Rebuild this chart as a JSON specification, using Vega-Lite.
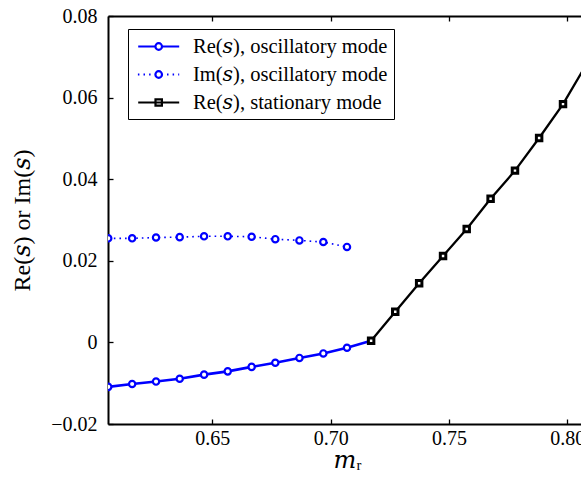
{
  "$schema": "https://vega.github.io/schema/vega-lite/v6.json",
  "width": 473,
  "height": 408,
  "autosize": {"type": "none"},
  "padding": {"left": 108, "top": 16, "right": 0, "bottom": 55},
  "background": "white",
  "config": {
    "font": "Liberation Serif, DejaVu Serif",
    "view": {"stroke": null},
    "axis": {
      "grid": false,
      "domainColor": "black",
      "domainWidth": 2,
      "tickColor": "black",
      "tickWidth": 1.3,
      "tickSize": -5,
      "labelFont": "Liberation Serif, DejaVu Serif",
      "labelFontSize": 20,
      "labelColor": "black",
      "titleFont": "Liberation Serif, DejaVu Serif",
      "titleFontWeight": "normal",
      "titleColor": "black"
    }
  },
  "data": {
    "values": [
      {"series": "Re(𝑠), oscillatory mode", "m": 0.6060, "s": -0.0109},
      {"series": "Re(𝑠), oscillatory mode", "m": 0.6161, "s": -0.0102},
      {"series": "Re(𝑠), oscillatory mode", "m": 0.6262, "s": -0.0096},
      {"series": "Re(𝑠), oscillatory mode", "m": 0.6362, "s": -0.0089},
      {"series": "Re(𝑠), oscillatory mode", "m": 0.6465, "s": -0.0079},
      {"series": "Re(𝑠), oscillatory mode", "m": 0.6565, "s": -0.0071},
      {"series": "Re(𝑠), oscillatory mode", "m": 0.6666, "s": -0.0060},
      {"series": "Re(𝑠), oscillatory mode", "m": 0.6766, "s": -0.0050},
      {"series": "Re(𝑠), oscillatory mode", "m": 0.6868, "s": -0.0038},
      {"series": "Re(𝑠), oscillatory mode", "m": 0.6969, "s": -0.0027},
      {"series": "Re(𝑠), oscillatory mode", "m": 0.7069, "s": -0.0013},
      {"series": "Re(𝑠), oscillatory mode", "m": 0.7171, "s": 0.0004},
      {"series": "Im(𝑠), oscillatory mode", "m": 0.6060, "s": 0.0255},
      {"series": "Im(𝑠), oscillatory mode", "m": 0.6161, "s": 0.0255},
      {"series": "Im(𝑠), oscillatory mode", "m": 0.6262, "s": 0.0257},
      {"series": "Im(𝑠), oscillatory mode", "m": 0.6362, "s": 0.0258},
      {"series": "Im(𝑠), oscillatory mode", "m": 0.6465, "s": 0.0260},
      {"series": "Im(𝑠), oscillatory mode", "m": 0.6565, "s": 0.0260},
      {"series": "Im(𝑠), oscillatory mode", "m": 0.6666, "s": 0.0259},
      {"series": "Im(𝑠), oscillatory mode", "m": 0.6766, "s": 0.0253},
      {"series": "Im(𝑠), oscillatory mode", "m": 0.6868, "s": 0.0250},
      {"series": "Im(𝑠), oscillatory mode", "m": 0.6969, "s": 0.0246},
      {"series": "Im(𝑠), oscillatory mode", "m": 0.7069, "s": 0.0234},
      {"series": "Re(𝑠), stationary mode", "m": 0.7171, "s": 0.0004},
      {"series": "Re(𝑠), stationary mode", "m": 0.7273, "s": 0.0075},
      {"series": "Re(𝑠), stationary mode", "m": 0.7374, "s": 0.0145},
      {"series": "Re(𝑠), stationary mode", "m": 0.7475, "s": 0.0212},
      {"series": "Re(𝑠), stationary mode", "m": 0.7575, "s": 0.0278},
      {"series": "Re(𝑠), stationary mode", "m": 0.7676, "s": 0.0352},
      {"series": "Re(𝑠), stationary mode", "m": 0.7779, "s": 0.0421},
      {"series": "Re(𝑠), stationary mode", "m": 0.7881, "s": 0.0501},
      {"series": "Re(𝑠), stationary mode", "m": 0.7982, "s": 0.0584},
      {"series": "Re(𝑠), stationary mode", "m": 0.8083, "s": 0.0684}
    ]
  },
  "encoding": {
    "y": {
      "field": "s",
      "type": "quantitative",
      "scale": {"domain": [-0.02, 0.08], "nice": false, "zero": false},
      "axis": {
        "values": [-0.02, 0, 0.02, 0.04, 0.06, 0.08],
        "labelExpr": "datum.value === 0 ? '0' : format(datum.value, '.2f')",
        "labelPadding": 16,
        "title": "Re(𝑠) or Im(𝑠)",
        "titleFontSize": 24,
        "titleAngle": 270,
        "titleAlign": "center",
        "titleBaseline": "middle",
        "titleX": -86,
        "titleY": 204
      }
    }
  },
  "layer": [
    {
      "transform": [{"filter": "datum.series === 'Re(𝑠), oscillatory mode'"}],
      "mark": {"type": "line", "color": "#0000ff", "strokeWidth": 2.6, "clip": true},
      "encoding": {
        "x": {
          "field": "m",
          "type": "quantitative",
          "scale": {"domain": [0.6059, 0.8058], "nice": false, "zero": false},
          "axis": {
            "orient": "bottom",
            "values": [0.65, 0.7, 0.75, 0.8],
            "format": ".2f",
            "labelPadding": 9,
            "title": "𝑚ᵣ",
            "titleFontSize": 24,
            "titleAlign": "center",
            "titleBaseline": "alphabetic",
            "titleX": 239,
            "titleY": 43
          }
        }
      }
    },
    {
      "transform": [{"filter": "datum.series === 'Im(𝑠), oscillatory mode'"}],
      "mark": {"type": "line", "color": "#0000ff", "strokeWidth": 1.6, "strokeDash": [1.6, 4], "clip": true},
      "encoding": {
        "x": {
          "field": "m",
          "type": "quantitative",
          "axis": {"orient": "top", "values": [0.65, 0.7, 0.75, 0.8], "labels": false, "title": null}
        }
      }
    },
    {
      "transform": [{"filter": "datum.series === 'Re(𝑠), stationary mode'"}],
      "mark": {"type": "line", "color": "black", "strokeWidth": 2.3, "clip": true},
      "encoding": {
        "x": {"field": "m", "type": "quantitative", "axis": null}
      }
    },
    {
      "transform": [{"filter": "datum.series !== 'Re(𝑠), stationary mode' && datum.m < 0.712"}],
      "mark": {"type": "point", "shape": "circle", "filled": false, "fill": "white", "color": "#0000ff", "strokeWidth": 2.2, "size": 40, "opacity": 1, "clip": true},
      "encoding": {
        "x": {"field": "m", "type": "quantitative", "axis": null}
      }
    },
    {
      "transform": [{"filter": "datum.series === 'Re(𝑠), stationary mode'"}],
      "mark": {"type": "point", "shape": "square", "filled": false, "fill": "white", "color": "black", "strokeWidth": 3, "size": 30, "opacity": 1, "clip": true},
      "encoding": {
        "x": {"field": "m", "type": "quantitative", "axis": null}
      }
    },
    {
      "mark": {"type": "point", "filled": false, "strokeWidth": 2.2, "opacity": 0, "clip": true},
      "encoding": {
        "x": {"field": "m", "type": "quantitative", "axis": null},
        "color": {
          "field": "series",
          "type": "nominal",
          "scale": {
            "domain": ["Re(𝑠), oscillatory mode", "Im(𝑠), oscillatory mode", "Re(𝑠), stationary mode"],
            "range": ["#0000ff", "#0000ff", "black"]
          },
          "legend": {
            "orient": "none",
            "legendX": 20,
            "legendY": 13,
            "title": null,
            "padding": 6,
            "fillColor": "white",
            "strokeColor": "black",
            "labelFont": "Liberation Serif, DejaVu Serif",
            "labelFontSize": 20.5,
            "labelColor": "black",
            "labelLimit": 400,
            "labelOffset": 36,
            "rowPadding": 6,
            "symbolSize": 400,
            "symbolStrokeWidth": 2.2,
            "symbolOpacity": 1,
            "symbolFillColor": "white",
            "encode": {"legend": {"strokeWidth": {"value": 2}}}
          }
        },
        "shape": {
          "field": "series",
          "type": "nominal",
          "scale": {
            "domain": ["Re(𝑠), oscillatory mode", "Im(𝑠), oscillatory mode", "Re(𝑠), stationary mode"],
            "range": [
              "M-0.73,0H0.99M1.65,0H3.37M1.65,0A0.33,0.33,0,1,1,0.99,0A0.33,0.33,0,1,1,1.65,0Z",
              "M-0.76,0h0.15M-0.2,0h0.15M0.36,0h0.15M2.15,0h0.15M2.71,0h0.15M3.27,0h0.1M1.65,0A0.33,0.33,0,1,1,0.99,0A0.33,0.33,0,1,1,1.65,0Z",
              "M-0.73,0H3.37M1.0,-0.32H1.64V0.32H1.0Z"
            ]
          }
        }
      }
    }
  ],
  "resolve": {"axis": {"x": "independent"}}
}
